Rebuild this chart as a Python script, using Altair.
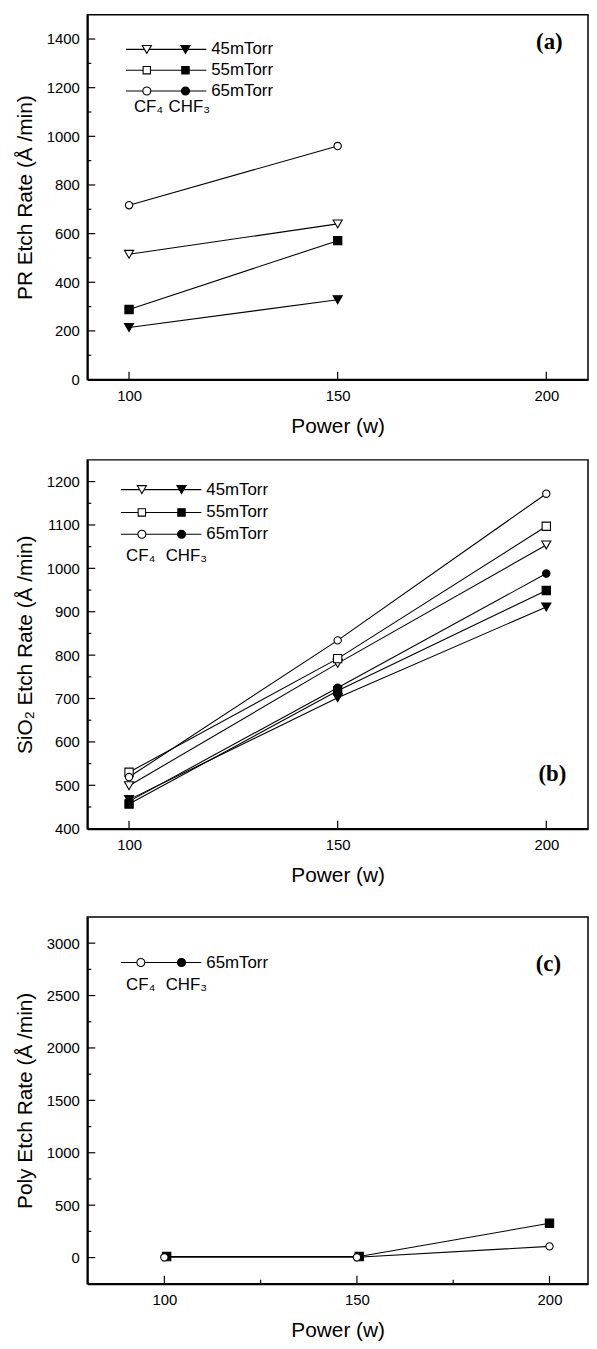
import altair as alt
import pandas as pd

# ---------------- data ----------------
a_power = [100, 150]
a_cf4_45 = [515, 640]
a_cf4_65 = [717, 960]
a_chf3_55 = [288, 571]
a_chf3_45 = [214, 328]

b_power = [100, 150, 200]
b_cf4_45 = [499, 781, 1054]
b_cf4_55 = [530, 792, 1097]
b_cf4_65 = [519, 834, 1172]
b_chf3_45 = [467, 702, 911]
b_chf3_55 = [457, 718, 949]
b_chf3_65 = [463, 725, 988]

c_power_cf4 = [100, 150, 200]
c_power_chf3 = [100.6, 150.6, 200]
c_cf4_65 = [3, 3, 107]
c_chf3_65 = [10, 10, 327]

legend_ab = ["45mTorr", "55mTorr", "65mTorr"]
legend_ab_sym = ["tri", "sq", "circ"]
legend_c = ["65mTorr"]
legend_c_sym = ["circ"]
gas_labels = ["CF\u2084", "CHF\u2083"]

y_titles = ["PR Etch Rate (\u00c5 /min)", "SiO\u2082 Etch Rate (\u00c5 /min)", "Poly Etch Rate (\u00c5 /min)"]
x_title = "Power (w)"
panel_tags = ["(a)", "(b)", "(c)"]

a_yticks = [0, 200, 400, 600, 800, 1000, 1200, 1400]
a_yminor = [100, 300, 500, 700, 900, 1100, 1300]
b_yticks = [400, 500, 600, 700, 800, 900, 1000, 1100, 1200]
b_yminor = [450, 550, 650, 750, 850, 950, 1050, 1150]
c_yticks = [0, 500, 1000, 1500, 2000, 2500, 3000]
c_yminor = [250, 750, 1250, 1750, 2250, 2750]
x_ticks = [100, 150, 200]
c_xminor = [125, 175]

FONT = "Liberation Sans"
SERIF = "Liberation Serif"
SHAPES = alt.Scale(domain=["tri", "sq", "circ"], range=["triangle-down", "square", "circle"])
SIZES = alt.Scale(domain=["tri", "sq", "circ"], range=[85, 55, 65])
FILLS = alt.Scale(domain=["CF4", "CHF3"], range=["white", "black"])
SHAPE_NAME = {"tri": "triangle-down", "sq": "square", "circ": "circle"}
SIZE_VAL = {"tri": 85, "sq": 55, "circ": 65}

W = 505


def make_df(series):
    rows = []
    for gas, pres, sym, xs, ys in series:
        for x, y in zip(xs, ys):
            rows.append(dict(series=gas + " " + pres, gas=gas, sym=sym, power=x, rate=y))
    return pd.DataFrame(rows)


one = pd.DataFrame({"k": [0]})


def panel(df, H, xdom, ydom, yticks, yminor, xminor, ytitle, tag, tag_xy,
          leg_labels, leg_syms, leg_rows, leg_gas_y, leg_x):
    xs = alt.Scale(domain=xdom, nice=False, zero=False)
    ys = alt.Scale(domain=ydom, nice=False, zero=False)
    xaxis = alt.Axis(values=x_ticks, ticks=False, grid=False, domainColor="black", domainWidth=2,
                     labelFont=FONT, labelFontSize=15, labelColor="black", labelPadding=9,
                     title=x_title, titleFont=FONT, titleFontSize=21, titleFontWeight="normal",
                     titleColor="black", titlePadding=12, format="d", labelFlush=False)
    yaxis = alt.Axis(values=yticks, ticks=False, grid=False, domainColor="black", domainWidth=2,
                     labelFont=FONT, labelFontSize=15, labelColor="black", labelPadding=8,
                     title=ytitle, titleFont=FONT, titleFontSize=21, titleFontWeight="normal",
                     titleColor="black", titlePadding=11, format="d", labelFlush=False)

    base = alt.Chart(df)
    lines = base.mark_line(color="black", strokeWidth=1.1).encode(
        x=alt.X("power:Q", scale=xs, axis=xaxis),
        y=alt.Y("rate:Q", scale=ys, axis=yaxis),
        detail="series:N",
    )
    pts = base.mark_point(filled=True, stroke="black", strokeWidth=1.1, opacity=1).encode(
        x=alt.X("power:Q", scale=xs),
        y=alt.Y("rate:Q", scale=ys),
        shape=alt.Shape("sym:N", scale=SHAPES, legend=None),
        size=alt.Size("sym:N", scale=SIZES, legend=None),
        fill=alt.Fill("gas:N", scale=FILLS, legend=None),
        order=alt.Order("gas:N", sort="descending"),
    )
    layers = [lines, pts]

    # inward ticks
    layers.append(alt.Chart(pd.DataFrame({"rate": yticks})).mark_rule(color="black", strokeWidth=1.2).encode(
        y=alt.Y("rate:Q", scale=ys), x=alt.value(0), x2=alt.value(8)))
    layers.append(alt.Chart(pd.DataFrame({"rate": yminor})).mark_rule(color="black", strokeWidth=1.2).encode(
        y=alt.Y("rate:Q", scale=ys), x=alt.value(0), x2=alt.value(4)))
    layers.append(alt.Chart(pd.DataFrame({"power": x_ticks})).mark_rule(color="black", strokeWidth=1.2).encode(
        x=alt.X("power:Q", scale=xs), y=alt.value(H), y2=alt.value(H - 8)))
    if xminor:
        layers.append(alt.Chart(pd.DataFrame({"power": xminor})).mark_rule(color="black", strokeWidth=1.2).encode(
            x=alt.X("power:Q", scale=xs), y=alt.value(H), y2=alt.value(H - 4)))

    # custom legend
    lx0, lx1, ox, fx, tx, gx0, gx1 = leg_x
    for lab, sym, ry in zip(leg_labels, leg_syms, leg_rows):
        layers.append(alt.Chart(one).mark_rule(color="black", strokeWidth=1.1).encode(
            x=alt.value(lx0), x2=alt.value(lx1), y=alt.value(ry)))
        for px, fill in ((ox, "white"), (fx, "black")):
            layers.append(alt.Chart(one).mark_point(filled=True, stroke="black", strokeWidth=1.1, opacity=1).encode(
                x=alt.value(px), y=alt.value(ry), shape=alt.value(SHAPE_NAME[sym]),
                size=alt.value(SIZE_VAL[sym]), fill=alt.value(fill)))
        layers.append(alt.Chart(one).mark_text(font=FONT, fontSize=17, align="left", baseline="middle",
                                               color="black").encode(
            x=alt.value(tx), y=alt.value(ry), text=alt.value(lab)))
    for gx, g in zip((gx0, gx1), gas_labels):
        layers.append(alt.Chart(one).mark_text(font=FONT, fontSize=17, align="left", baseline="middle",
                                               color="black").encode(
            x=alt.value(gx), y=alt.value(leg_gas_y), text=alt.value(g)))

    layers.append(alt.Chart(one).mark_text(font=SERIF, fontSize=23, fontWeight="bold", align="center",
                                           baseline="middle", color="black").encode(
        x=alt.value(tag_xy[0]), y=alt.value(tag_xy[1]), text=alt.value(tag)))

    return alt.layer(*layers).properties(width=W, height=H)


df_a = make_df([
    ("CF4", "45mTorr", "tri", a_power, a_cf4_45),
    ("CF4", "65mTorr", "circ", a_power, a_cf4_65),
    ("CHF3", "55mTorr", "sq", a_power, a_chf3_55),
    ("CHF3", "45mTorr", "tri", a_power, a_chf3_45),
])
df_b = make_df([
    ("CF4", "45mTorr", "tri", b_power, b_cf4_45),
    ("CF4", "55mTorr", "sq", b_power, b_cf4_55),
    ("CF4", "65mTorr", "circ", b_power, b_cf4_65),
    ("CHF3", "45mTorr", "tri", b_power, b_chf3_45),
    ("CHF3", "55mTorr", "sq", b_power, b_chf3_55),
    ("CHF3", "65mTorr", "circ", b_power, b_chf3_65),
])
df_c = make_df([
    ("CHF3", "65mTorr", "sq", c_power_chf3, c_chf3_65),
    ("CF4", "65mTorr", "circ", c_power_cf4, c_cf4_65),
])

pa = panel(df_a, 368, [90, 210], [0, 1500], a_yticks, a_yminor, None, y_titles[0], panel_tags[0], (466, 28),
           legend_ab, legend_ab_sym, [35, 56, 77], 93, (39, 120, 60, 99, 125, 47, 82))
pb = panel(df_b, 372, [90, 210], [400, 1250], b_yticks, b_yminor, None, y_titles[1], panel_tags[1], (469, 317),
           legend_ab, legend_ab_sym, [30, 53, 75], 97, (34, 115, 55, 95, 120, 39, 79))
pc = panel(df_c, 370, [80, 210], [-250, 3250], c_yticks, c_yminor, c_xminor, y_titles[2], panel_tags[2], (465, 48),
           legend_c, legend_c_sym, [46], 69, (34, 115, 54, 95, 120, 39, 79))

top = alt.vconcat(pa, pb, spacing=22)
chart = alt.vconcat(top, pc, spacing=30).properties(
    padding={"left": 5, "top": 0, "right": 0, "bottom": 0}
).configure(
    background="white",
    view=alt.ViewConfig(stroke="black", strokeWidth=1.5),
)

chart.save("out.html", embed_options={"renderer": "svg", "actions": False})
